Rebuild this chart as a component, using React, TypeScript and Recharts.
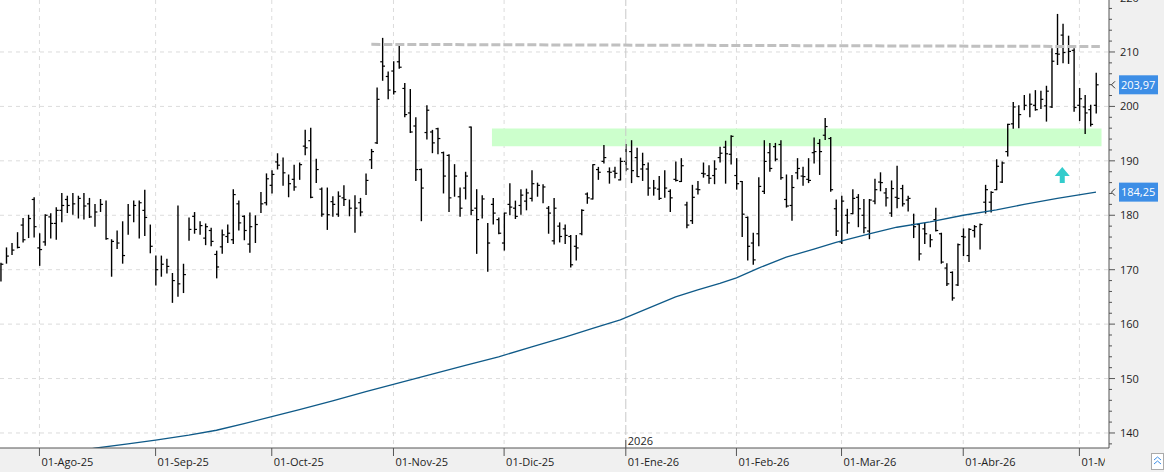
import React from 'react';
import {
  ComposedChart, Bar, Line, XAxis, YAxis, CartesianGrid,
  ReferenceArea, ReferenceLine, ReferenceDot,
} from 'recharts';

// ---- Daily bars (high / low / open tick / close tick) ----
const highs = [
  171.2, 174.0, 174.8, 176.8, 179.4, 180.0, 183.2, 176.6, 180.1, 180.3,
  181.4, 184.0, 183.5, 184.0, 183.5, 184.0, 183.1, 182.0, 182.9, 182.6,
  175.5, 177.1, 178.8, 182.0, 182.6, 182.6, 184.6, 178.2, 172.5, 172.5,
  171.9, 169.3, 181.7, 171.0, 179.5, 180.5, 178.8, 178.4, 177.6, 173.4,
  177.3, 178.2, 184.7, 182.6, 179.9, 180.4, 179.9, 184.2, 187.6, 188.2,
  191.3, 190.5, 187.4, 189.2, 189.6, 195.6, 196.0, 190.3, 185.0, 185.0,
  183.4, 184.3, 185.4, 182.8, 183.6, 183.1, 187.6, 192.1, 203.4, 212.5,
  206.3, 208.2, 211.1, 204.2, 203.1, 197.9, 188.5, 200.1, 195.6, 196.0,
  191.6, 191.1, 189.3, 185.0, 187.9, 196.2, 184.7, 183.6, 178.5, 183.1,
  179.5, 180.4, 185.8, 182.6, 184.7, 184.8, 188.2, 185.9, 185.6, 181.6,
  183.1, 178.6, 178.2, 176.3, 176.3, 181.0, 184.1, 189.3, 188.8, 192.8,
  188.7, 188.8, 190.5, 193.0, 193.7, 192.3, 191.4, 189.6, 186.4, 187.1,
  188.2, 184.7, 189.8, 190.4, 182.4, 185.5, 186.2, 189.6, 189.1, 190.0,
  192.5, 193.6, 194.6, 190.4, 186.2, 179.7, 176.7, 186.9, 193.7, 193.2,
  193.2, 193.7, 187.4, 187.3, 190.4, 188.8, 190.4, 194.2, 193.9, 197.8,
  194.3, 182.8, 183.5, 181.1, 184.7, 183.8, 182.9, 182.9, 186.6, 187.8,
  184.9, 186.3, 189.0, 185.5, 183.5, 180.2, 178.3, 178.5, 176.4, 181.3,
  176.7, 171.1, 169.6, 174.7, 177.5, 177.5, 178.1, 178.4, 185.5, 184.3,
  190.2, 189.8, 196.7, 200.7, 200.1, 202.0, 202.3, 202.9, 202.8, 203.7,
  210.6, 216.9, 215.1, 212.9, 210.6, 203.3, 202.0, 200.2, 206.1,
];
const lows = [
  167.9, 171.2, 172.8, 174.0, 175.1, 175.9, 176.0, 170.8, 174.5, 175.8,
  175.6, 178.8, 180.5, 180.2, 179.5, 179.3, 179.6, 178.0, 180.7, 175.6,
  168.8, 173.9, 171.2, 176.5, 178.8, 175.8, 176.3, 173.1, 167.2, 168.8,
  169.4, 164.0, 165.1, 165.8, 175.4, 176.7, 176.5, 174.6, 174.4, 168.5,
  173.0, 175.0, 174.8, 177.3, 175.5, 173.2, 175.0, 180.5, 181.9, 184.1,
  188.5, 185.5, 183.4, 184.6, 186.6, 191.1, 183.2, 186.0, 179.8, 177.4,
  179.8, 179.8, 181.8, 179.9, 176.9, 179.9, 183.8, 188.6, 193.2, 204.8,
  201.4, 202.3, 207.0, 198.1, 195.2, 186.4, 179.0, 194.0, 191.5, 191.3,
  184.1, 180.7, 183.5, 179.8, 183.0, 180.1, 173.0, 179.5, 169.7, 178.4,
  176.6, 173.6, 180.1, 179.4, 180.2, 181.0, 182.6, 183.5, 182.3, 176.7,
  174.7, 175.1, 174.8, 170.5, 171.8, 176.4, 182.2, 183.0, 186.6, 189.6,
  185.9, 186.9, 186.5, 188.2, 186.0, 187.1, 186.4, 183.7, 183.7, 182.9,
  183.3, 180.7, 186.3, 186.2, 177.7, 178.5, 183.9, 187.0, 185.9, 185.8,
  189.8, 185.9, 189.4, 184.8, 176.1, 171.8, 171.0, 174.4, 184.0, 188.1,
  190.0, 186.6, 181.5, 179.1, 186.7, 185.5, 186.0, 189.6, 187.5, 193.9,
  184.4, 176.3, 174.8, 176.7, 180.3, 177.9, 176.8, 175.7, 182.1, 184.5,
  181.7, 179.8, 181.4, 181.7, 180.8, 175.9, 171.8, 174.8, 174.2, 177.1,
  171.2, 167.1, 164.4, 167.1, 172.6, 171.5, 176.0, 173.8, 180.4, 180.6,
  184.7, 186.0, 190.9, 196.0, 196.1, 199.4, 198.1, 199.3, 199.6, 197.3,
  199.8, 207.7, 208.0, 207.9, 199.1, 197.4, 195.0, 196.4, 198.8,
];
const opens: (number | null)[] = [
  null, null, null, null, 178.2, null, 182.9, 174.0, 175.1, 179.7,
  178.5, 180.9, 182.9, null, null, null, 182.1, null, null, null,
  null, null, null, null, null, null, 180.9, null, null, null,
  null, null, null, null, null, 179.8, null, 175.8, 177.2, 172.8,
  174.2, 176.1, 175.5, 182.1, 179.8, 174.7, null, null, 182.3, 185.5,
  189.8, null, null, 186.6, null, 192.7, 193.7, null, 184.8, null,
  182.5, 180.2, 183.2, null, null, 182.3, null, 190.2, 193.3, 208.2,
  205.5, 206.5, 208.2, 203.3, 198.8, 196.4, 188.4, 195.2, 195.3, 195.9,
  191.5, 191.0, null, 183.4, 185.0, 196.2, 181.3, null, null, 182.0,
  179.2, 174.9, 182.0, 181.3, 181.8, 182.6, 183.1, null, null, 181.3,
  175.3, 178.0, 177.5, 176.1, 174.3, 176.6, 183.9, 183.0, 188.4, 189.9,
  188.0, 188.1, 186.5, 189.9, 191.7, 190.6, 188.5, 188.5, null, 184.8,
  null, 184.4, 186.6, 186.2, 181.9, 179.0, 184.8, 187.7, 187.3, 187.3,
  190.6, 192.5, 191.2, 187.3, 186.2, 179.6, 174.9, 176.6, 184.4, 191.5,
  192.6, 193.0, 182.9, 181.8, 187.8, 187.2, 186.6, 191.5, 193.2, 194.7,
  194.1, 181.2, 175.1, 180.0, 180.3, 183.3, 180.0, 177.1, 182.6, 186.1,
  184.1, 180.4, 183.3, 184.9, 182.8, 178.3, 178.3, 177.5, null, 179.2,
  176.6, 170.3, 169.5, 167.2, 176.1, 172.6, 177.2, null, 182.4, 182.4,
  184.7, 186.1, 191.7, 196.8, null, null, null, 200.2, null, 200.1,
  199.9, 209.7, 213.1, null, 210.3, 200.2, 199.9, 199.4, 200.2,
];
const closes = [
  171.0, 172.5, 173.6, 174.1, 175.5, 179.4, 177.9, 173.7, 180.0, 178.5,
  180.9, 181.8, 181.8, 182.1, 183.1, 181.7, 179.7, 180.6, 182.0, 175.7,
  175.2, 174.9, 172.6, 180.0, 181.8, 182.3, 179.6, 174.3, 170.0, 171.0,
  170.6, 168.0, 167.4, 169.1, 177.4, 177.4, 178.1, 177.9, 175.2, 170.5,
  176.4, 176.7, 183.8, 178.6, 177.2, 177.9, 178.3, 182.1, 186.7, 187.5,
  189.2, 187.8, 185.8, 185.2, 189.3, 192.4, 183.3, 188.4, 180.2, 180.1,
  182.0, 183.5, 182.9, 181.3, 181.3, 180.6, 186.4, 191.7, 201.3, 207.4,
  203.0, 202.7, 207.2, 198.5, 195.3, 188.4, 185.0, 199.3, 193.3, 194.1,
  187.2, 183.2, 187.2, 181.3, 187.2, 180.9, 179.2, 183.0, 174.9, 180.4,
  176.7, 180.4, 181.5, 179.8, 183.7, 184.1, 185.8, 185.5, 185.2, 180.4,
  181.3, 176.1, 176.3, 170.9, 174.0, 180.9, 183.2, 189.3, 187.9, 190.6,
  187.9, 187.7, 189.9, 188.5, 188.2, 187.1, 189.3, 185.0, 185.0, 183.1,
  185.0, 183.2, 186.4, 189.1, 178.2, 183.3, 184.7, 187.6, 186.8, 188.5,
  191.4, 191.3, 194.5, 185.8, 180.2, 174.3, 171.8, 185.3, 189.9, 188.6,
  190.3, 186.9, 181.7, 185.1, 188.6, 187.1, 186.4, 191.7, 191.7, 196.3,
  184.7, 177.1, 182.6, 178.6, 183.1, 181.2, 177.7, 182.8, 184.7, 186.0,
  183.2, 184.9, 183.1, 182.1, 183.1, 177.9, 172.9, 176.6, 175.5, 177.2,
  171.4, 167.4, 164.8, 174.6, 176.0, 177.4, 177.9, 178.3, 184.7, 184.2,
  189.0, 189.6, 196.7, 199.9, 198.5, 200.2, 200.4, 199.4, 201.3, 202.8,
  208.3, 209.6, 209.9, 210.1, 199.8, 201.4, 198.8, 196.7, 203.97,
];

// ---- Long moving average, read at these bar positions ----
const maBars = [
  10, 17, 23, 28, 34, 39, 44, 49, 54, 60, 66, 72, 78, 84, 90, 96, 102, 107,
  112, 117, 122, 126, 130, 133, 137, 142, 147, 151, 157, 162, 168, 174, 180,
  185, 191, 198,
];
const maValues = [
  136.0, 137.2, 138.0, 138.7, 139.6, 140.5, 141.7, 143.0, 144.3, 145.9, 147.6,
  149.2, 150.8, 152.4, 154.0, 155.8, 157.6, 159.2, 160.8, 162.9, 165.0, 166.3,
  167.5, 168.5, 170.3, 172.3, 173.8, 175.0, 176.6, 177.8, 178.8, 180.0, 181.0,
  182.0, 183.1, 184.25,
];

// ---- Axis ticks ----
const monthTicks = [7, 28, 49, 71, 91, 113, 133, 152, 174, 195];
const monthLabels = [
  '01-Ago-25', '01-Sep-25', '01-Oct-25', '01-Nov-25', '01-Dic-25',
  '01-Ene-26', '01-Feb-26', '01-Mar-26', '01-Abr-26', '01-May-26',
];
const yearTick = 113;
const yearLabel = '2026';
const priceMajor = [140, 150, 160, 170, 180, 190, 200, 210, 220];
const priceTicks = [
  138, 140, 142, 144, 146, 148, 150, 152, 154, 156, 158, 160, 162, 164, 166,
  168, 170, 172, 174, 176, 178, 180, 182, 184, 186, 188, 190, 192, 194, 196,
  198, 200, 202, 204, 206, 208, 210, 212, 214, 216, 218, 220,
];

// ---- Annotations ----
const zone = { x1: 88.8, x2: 199.0, y1: 192.7, y2: 195.95 };
const resistance = { x1: 67.0, y1: 211.4, x2: 198.7, y2: 211.0 };
const arrowAt = { x: 191.9, y: 187.4 };

// ---- Layout ----
const W = 1164;
const H = 472;
const AXIS_W = 55;
const AXIS_H = 24;
const PLOT_RIGHT = W - AXIS_W;
const FONT = '"Open Sans", "Noto Sans", sans-serif';

const maMap = new Map<number, number>();
maBars.forEach((b, k) => maMap.set(b, maValues[k]));

const rows = highs.map((h, i) => ({
  i,
  range: [lows[i], h],
  h,
  l: lows[i],
  o: opens[i],
  c: closes[i],
  ma: maMap.has(i) ? maMap.get(i) : null,
}));

const fmt = (v: number) => v.toFixed(2).replace('.', ',');

const HLCShape = (props: any) => {
  const { x, y, width, height, payload } = props;
  if (x == null || y == null || !payload) return null;
  const top = Math.min(y, y + height);
  const bot = Math.max(y, y + height);
  const span = payload.h - payload.l;
  const toY = (v: number) => (span > 0 ? top + ((payload.h - v) / span) * (bot - top) : top);
  const cx = x + width / 2;
  return (
    <g>
      <line x1={cx} x2={cx} y1={top - 0.5} y2={bot + 0.5} stroke="#000" strokeWidth={1.4} />
      {payload.o != null && (
        <line x1={cx - 2.4} x2={cx} y1={toY(payload.o)} y2={toY(payload.o)} stroke="#000" strokeWidth={1.2} />
      )}
      <line x1={cx} x2={cx + 2.4} y1={toY(payload.c)} y2={toY(payload.c)} stroke="#000" strokeWidth={1.2} />
    </g>
  );
};

const MonthTick = (props: any) => {
  const { x, y, payload } = props;
  const k = monthTicks.indexOf(payload.value);
  const label = monthLabels[k] ?? '';
  const isYear = payload.value === yearTick;
  const clipId = `xclip-${k}`;
  return (
    <g>
      <defs>
        <clipPath id={clipId}>
          <rect x={0} y={y - 12} width={PLOT_RIGHT - 4} height={40} />
        </clipPath>
      </defs>
      <line x1={x} x2={x} y1={isYear ? y - 8 : y} y2={y + 8} stroke="#555" strokeWidth={1} />
      <text x={x + 2} y={y + 18} fontSize={11} fontFamily={FONT} fill="#1e1e1e" clipPath={`url(#${clipId})`}>
        {label}
      </text>
      {isYear && (
        <text x={x + 2} y={y - 3} fontSize={11} fontFamily={FONT} fill="#1e1e1e">
          {yearLabel}
        </text>
      )}
    </g>
  );
};

const PriceTick = (props: any) => {
  const { x, y, payload } = props;
  const v = payload.value;
  const major = priceMajor.includes(v);
  return (
    <g>
      <line x1={x} x2={x + (major ? 6 : 3)} y1={y} y2={y} stroke="#555" strokeWidth={1} />
      {major && (
        <text x={x + 11} y={y + 4} fontSize={11} fontFamily={FONT} fill="#1e1e1e">
          {v}
        </text>
      )}
    </g>
  );
};

const PriceTag = (props: any) => {
  const vb = props.viewBox;
  if (!vb) return null;
  const ax = vb.x + vb.width;
  const cy = vb.y;
  return (
    <g>
      <polyline
        points={`${ax + 6},${cy - 3.5} ${ax + 2.5},${cy} ${ax + 6},${cy + 3.5}`}
        fill="none"
        stroke="#333"
        strokeWidth={1}
      />
      <rect x={ax + 10} y={cy - 9.5} width={39} height={19} fill="#3d8ee6" />
      <text x={ax + 12} y={cy + 4} fontSize={11} fontFamily={FONT} fill="#fff">
        {props.text}
      </text>
    </g>
  );
};

const ArrowUp = (props: any) => {
  const { cx, cy } = props;
  if (cx == null || cy == null) return null;
  const pts = [
    [cx, cy - 8], [cx + 7.5, cy + 1], [cx + 2.5, cy + 1], [cx + 2.5, cy + 8],
    [cx - 2.5, cy + 8], [cx - 2.5, cy + 1], [cx - 7.5, cy + 1],
  ].map((p) => p.join(',')).join(' ');
  return <polygon points={pts} fill="#33cccc" />;
};

export default function App() {
  const lastClose = closes[closes.length - 1];
  const lastMa = maValues[maValues.length - 1];
  return (
    <div style={{ position: 'absolute', left: 0, top: 0, width: W, height: H, background: '#f0f0f0', overflow: 'hidden' }}>
      <ComposedChart width={W} height={H} data={rows} margin={{ top: 0, right: 0, bottom: 0, left: 0 }}>
        <CartesianGrid
          fill="#ffffff"
          stroke="#dcdcdc"
          strokeDasharray="4 4"
          horizontalValues={priceMajor}
          verticalValues={monthTicks.filter((t) => t !== yearTick)}
        />
        <XAxis
          dataKey="i"
          type="number"
          domain={[-0.13, 200.35]}
          allowDataOverflow
          ticks={monthTicks}
          interval={0}
          tick={<MonthTick />}
          tickLine={false}
          tickSize={0}
          tickMargin={0}
          height={AXIS_H}
          axisLine={{ stroke: '#555' }}
        />
        <YAxis
          orientation="right"
          type="number"
          domain={[137.24, 219.55]}
          allowDataOverflow
          ticks={priceTicks}
          interval={0}
          tick={<PriceTick />}
          tickLine={false}
          tickSize={0}
          tickMargin={0}
          width={AXIS_W}
          axisLine={{ stroke: '#555' }}
        />
        <ReferenceLine x={yearTick} stroke="#c8c8c8" strokeDasharray="10 3" />
        <ReferenceArea
          x1={zone.x1}
          x2={zone.x2}
          y1={zone.y1}
          y2={zone.y2}
          fill="#ccffcc"
          fillOpacity={1}
          stroke="none"
        />
        <ReferenceLine
          segment={[{ x: resistance.x1, y: resistance.y1 }, { x: resistance.x2, y: resistance.y2 }]}
          stroke="#c0c0c0"
          strokeWidth={3}
          strokeDasharray="9 3"
        />
        <Line
          dataKey="ma"
          type="linear"
          stroke="#0f5a88"
          strokeWidth={1.3}
          dot={false}
          connectNulls
          isAnimationActive={false}
        />
        <Bar dataKey="range" barSize={4} shape={<HLCShape />} isAnimationActive={false} />
        <ReferenceDot x={arrowAt.x} y={arrowAt.y} r={0} shape={<ArrowUp />} />
        <ReferenceLine y={lastClose} stroke="none" label={<PriceTag text={fmt(lastClose)} />} />
        <ReferenceLine y={lastMa} stroke="none" label={<PriceTag text={fmt(lastMa)} />} />
      </ComposedChart>
      <div
        style={{
          position: 'absolute', left: 1151, top: 453, width: 13, height: 17,
          background: '#fff', border: '1px solid #aaa', boxSizing: 'border-box',
        }}
      >
        <svg width={11} height={15} style={{ display: 'block' }}>
          <polyline points="2,6 5.5,3 9,6" fill="none" stroke="#3d8ee6" strokeWidth={1} />
          <polyline points="2,10 5.5,7 9,10" fill="none" stroke="#3d8ee6" strokeWidth={1} />
        </svg>
      </div>
    </div>
  );
}
